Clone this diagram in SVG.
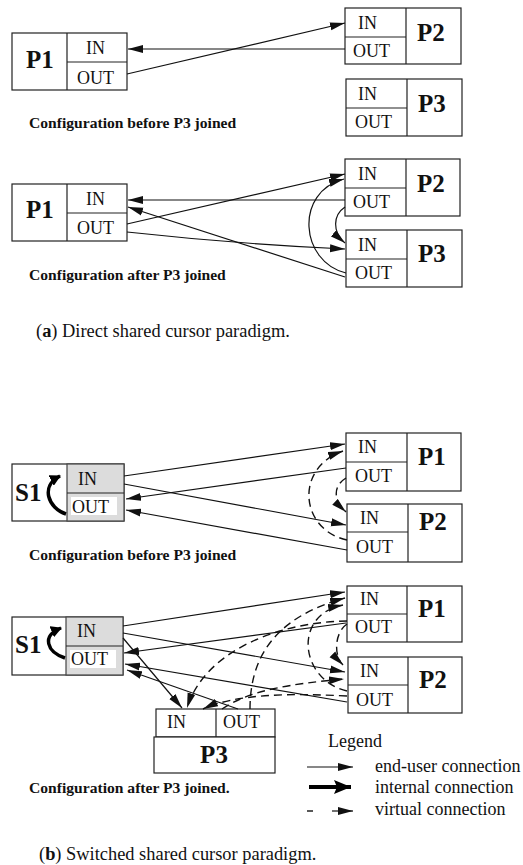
<svg xmlns="http://www.w3.org/2000/svg" width="523" height="865" viewBox="0 0 523 865">
<style>
.box{fill:#fff;stroke:#222;stroke-width:1.2}
.port{fill:#dcdcdc;stroke:#444;stroke-width:1.2}
.ln{stroke:#222;stroke-width:1.2;fill:none}
.t{font-family:"Liberation Serif",serif;font-size:18px;fill:#111}
.big{font-family:"Liberation Serif",serif;font-size:25px;font-weight:bold;fill:#111}
.cap{font-family:"Liberation Serif",serif;font-size:15.6px;font-weight:bold;fill:#111}
.fig{font-family:"Liberation Serif",serif;font-size:18.4px;fill:#111}
.e{fill:none;stroke:#111;stroke-width:1.2;marker-end:url(#ah)}
.v{fill:none;stroke:#111;stroke-width:1.4;stroke-dasharray:8 5;marker-end:url(#ah)}
.thick{fill:none;stroke:#000;stroke-width:3.5;marker-end:url(#ahS)}
</style>
<defs>
<marker id="ah" markerUnits="userSpaceOnUse" markerWidth="16" markerHeight="9" refX="15" refY="4.5" orient="auto"><path d="M0,0.5 L15,4.5 L0,8.5 z" fill="#111"/></marker>
<marker id="ahT" markerUnits="userSpaceOnUse" markerWidth="18" markerHeight="14" refX="17" refY="7" orient="auto"><path d="M0,0 L17,7 L0,14 L3,7 z" fill="#000"/></marker>
<marker id="ahS" markerUnits="userSpaceOnUse" markerWidth="12" markerHeight="12" refX="10" refY="6" orient="auto"><path d="M0,0 L11,6 L0,12 z" fill="#000"/></marker>
</defs>

<!-- (a) before -->
<g id="a1-P1"><rect class="box" x="12" y="33" width="115" height="57"/><path class="ln" d="M67,33V90M67,62H127"/><text class="big" x="26" y="68">P1</text><text class="t" x="86" y="54">IN</text><text class="t" x="77" y="84">OUT</text></g>
<g id="a1-P2"><rect class="box" x="345" y="8" width="116" height="56"/><path class="ln" d="M406,8V64M345,37H406"/><text class="t" x="358" y="29">IN</text><text class="t" x="353" y="57">OUT</text><text class="big" x="417" y="41">P2</text></g>
<g id="a1-P3"><rect class="box" x="346" y="79" width="116" height="57"/><path class="ln" d="M407,79V136M346,108H407"/><text class="t" x="358" y="100">IN</text><text class="t" x="355" y="128">OUT</text><text class="big" x="418" y="112">P3</text></g>
<g id="a1-edges"><path class="e" d="M345,49 L128,49"/><path class="e" d="M127,74 L345,23"/></g>
<text class="cap" x="29" y="128">Configuration before P3 joined</text>

<!-- (a) after -->
<g id="a2-P1"><rect class="box" x="12" y="184" width="115" height="57"/><path class="ln" d="M67,184V241M67,213H127"/><text class="big" x="26" y="218">P1</text><text class="t" x="86" y="205">IN</text><text class="t" x="77" y="234">OUT</text></g>
<g id="a2-P2"><rect class="box" x="345" y="159" width="115" height="57"/><path class="ln" d="M406,159V216M345,188H406"/><text class="t" x="358" y="180">IN</text><text class="t" x="353" y="208">OUT</text><text class="big" x="417" y="192">P2</text></g>
<g id="a2-P3"><rect class="box" x="346" y="230" width="116" height="57"/><path class="ln" d="M407,230V287M346,259H407"/><text class="t" x="358" y="251">IN</text><text class="t" x="355" y="279">OUT</text><text class="big" x="418" y="262">P3</text></g>
<g id="a2-edges">
<path class="e" d="M345,200 L128,200"/>
<path class="e" d="M345,277 L128,207"/>
<path class="e" d="M127,224 L345,174"/>
<path class="e" d="M127,232 Q236,244 345,249"/>
<path class="e" d="M346,273 C300,262 294,192 344,179"/>
<path class="e" d="M345,207 C333,215 332,232 345,243"/>
</g>
<text class="cap" x="29" y="280">Configuration after P3 joined</text>
<text class="fig" x="36" y="337">(<tspan font-weight="bold">a</tspan>) Direct shared cursor paradigm.</text>

<!-- (b) before -->
<g id="b1-S1"><rect class="box" x="12" y="464" width="112" height="57"/><rect class="port" x="67" y="464" width="57" height="57"/><path class="ln" d="M67,493H124"/><rect x="71" y="497" width="46" height="18" fill="#fff"/><text class="t" x="78" y="485">IN</text><text class="t" x="72" y="513">OUT</text><text class="big" x="15" y="501">S1</text><path class="thick" d="M66,514 C48,508 40,486 60,476"/></g>
<g id="b1-P1"><rect class="box" x="346" y="433" width="115" height="58"/><path class="ln" d="M407,433V491M346,462H407"/><text class="t" x="358" y="453">IN</text><text class="t" x="355" y="482">OUT</text><text class="big" x="418" y="465">P1</text></g>
<g id="b1-P2"><rect class="box" x="347" y="504" width="115" height="58"/><path class="ln" d="M408,504V562M347,532H408"/><text class="t" x="360" y="524">IN</text><text class="t" x="356" y="553">OUT</text><text class="big" x="419" y="530">P2</text></g>
<g id="b1-edges">
<path class="e" d="M124,476 L345,444"/>
<path class="e" d="M124,484 L346,525"/>
<path class="e" d="M346,468 L126,499"/>
<path class="e" d="M347,550 L126,510"/>
<path class="v" d="M347,540 C300,530 294,468 343,451"/>
<path class="v" d="M346,478 C333,486 333,500 346,512"/>
</g>
<text class="cap" x="29" y="560">Configuration before P3 joined</text>

<!-- (b) after -->
<g id="b2-S1"><rect class="box" x="12" y="617" width="111" height="58"/><rect class="port" x="66" y="617" width="57" height="58"/><path class="ln" d="M66,646H123"/><rect x="70" y="650" width="46" height="18" fill="#fff"/><text class="t" x="77" y="637">IN</text><text class="t" x="71" y="665">OUT</text><text class="big" x="15" y="653">S1</text><path class="thick" d="M65,658 C47,652 41,636 61,628"/></g>
<g id="b2-P1"><rect class="box" x="347" y="586" width="115" height="56"/><path class="ln" d="M407,586V642M347,614H407"/><text class="t" x="360" y="605">IN</text><text class="t" x="355" y="633">OUT</text><text class="big" x="418" y="617">P1</text></g>
<g id="b2-P2"><rect class="box" x="348" y="657" width="114" height="56"/><path class="ln" d="M408,657V713M348,685H408"/><text class="t" x="360" y="677">IN</text><text class="t" x="356" y="706">OUT</text><text class="big" x="419" y="688">P2</text></g>
<g id="b2-P3"><rect class="box" x="156" y="709" width="119" height="28"/><path class="ln" d="M216,709V737"/><rect class="box" x="154" y="737" width="121" height="36"/><text class="t" x="167" y="728">IN</text><text class="t" x="223" y="728">OUT</text><text class="big" x="214" y="763" text-anchor="middle">P3</text></g>
<g id="b2-edges">
<path class="e" d="M123,626 L345,592"/>
<path class="e" d="M123,633 L345,672"/>
<path class="e" d="M346,623 L124,653"/>
<path class="e" d="M347,702 L125,664"/>
<path class="e" d="M238,709 L127,670"/>
<path class="e" d="M123,638 L182,708"/>
<path class="v" d="M347,621 C280,622 205,650 187,708"/>
<path class="v" d="M347,696 C290,693 235,694 203,709"/>
<path class="v" d="M250,709 C250,660 272,618 345,598"/>
<path class="v" d="M222,709 C250,690 290,684 344,679"/>
<path class="v" d="M347,691 C300,680 292,615 343,605"/>
<path class="v" d="M347,624 C335,632 333,655 343,665"/>
</g>
<text class="cap" x="29" y="793">Configuration after P3 joined.</text>

<g id="legend">
<text class="t" x="328" y="747">Legend</text>
<path class="e" d="M307,767 L353,767"/>
<path d="M309,787 L351,787" fill="none" stroke="#000" stroke-width="4" marker-end="url(#ahT)"/>
<path d="M307,811 L313,811" fill="none" stroke="#111" stroke-width="1.4"/>
<path class="e" d="M332,811 L353,811"/>
<text class="t" x="375" y="772">end-user connection</text>
<text class="t" x="375" y="793">internal connection</text>
<text class="t" x="375" y="815">virtual connection</text>
</g>
<text class="fig" x="39" y="860">(<tspan font-weight="bold">b</tspan>) Switched shared cursor paradigm.</text>
</svg>
